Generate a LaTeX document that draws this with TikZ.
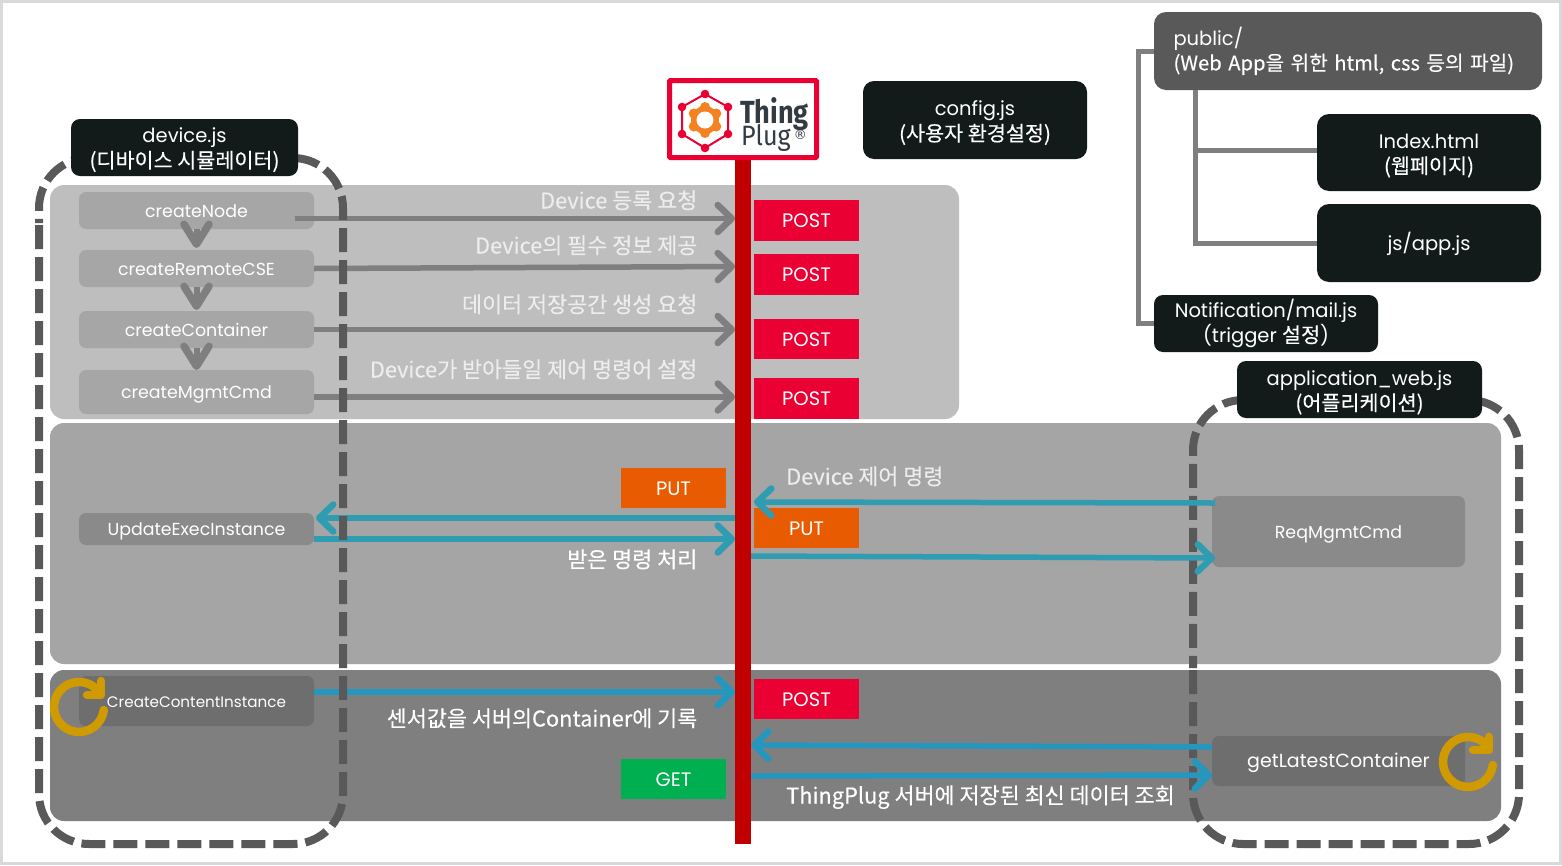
\documentclass[tikz,border=0pt]{standalone}
\usepackage{fontspec}
\usetikzlibrary{arrows.meta}
\setmainfont{Poppins}
\newfontfamily\kofont[FakeBold=0.25]{Noto Sans CJK KR}
\newfontfamily\logofont{Fira Sans}
\newfontfamily\regmark{DejaVu Sans}
\newcommand{\K}[1]{{\kofont\fontsize{20.7}{24}\selectfont #1}}
\newcommand{\Ktop}[1]{\rule{0pt}{#1pt}}
\definecolor{bandA}{HTML}{BEBEBE}
\definecolor{bandB}{HTML}{A5A5A5}
\definecolor{bandC}{HTML}{7F7F7F}
\definecolor{inkbox}{HTML}{121A1A}
\definecolor{dashgray}{HTML}{595959}
\definecolor{conn}{HTML}{7F7F7F}
\definecolor{tealconn}{HTML}{2F9CB2}
\definecolor{blueconn}{HTML}{2596BE}
\definecolor{postred}{HTML}{EA0033}
\definecolor{putorange}{HTML}{E95B00}
\definecolor{getgreen}{HTML}{00B050}
\definecolor{barred}{HTML}{C00000}
\definecolor{cycle}{HTML}{D09B00}
\definecolor{pale}{HTML}{EDEDED}
\definecolor{gearorange}{HTML}{F58220}
\definecolor{logoink}{HTML}{333B42}
\newcommand{\pxbox}[7]{%
  \pgfmathsetmacro{\cxx}{(#3+#5)/2}\pgfmathsetmacro{\cyy}{(#4+#6)/2}%
  \pgfmathsetmacro{\ww}{#5-#3}\pgfmathsetmacro{\hh}{#6-#4}%
  \node[#2,minimum width=\ww pt,minimum height=\hh pt] (#1) at (\cxx,\cyy) {#7};}
\tikzset{
  x=1pt,y=-1pt,
  basebox/.style={rectangle,inner sep=0pt,outer sep=0pt,align=center,text=white,font=\fontsize{19.5}{24}\selectfont},
  band/.style={basebox,rounded corners=14pt},
  dark/.style={basebox,rounded corners=9pt,fill=inkbox},
  funcbox/.style={basebox,rounded corners=7pt,font=\fontsize{17.4}{20}\selectfont,text height=13pt,text depth=0pt},
  verb/.style={basebox,font=\fontsize{19.5}{22}\selectfont,text height=14pt,text depth=0pt},
  dashbox/.style={draw=dashgray,line width=8pt,dash pattern=on 24pt off 8pt,rounded corners=50pt},
  grayarrow/.style={draw=conn,line width=5.5pt,-{Straight Barb[length=14pt,width=27pt,line width=6.5pt,round]}},
  flowarrow/.style={draw=conn,line width=6pt,-{Straight Barb[length=20pt,width=25pt,line width=7.5pt,round]}},
  tealarrow/.style={draw=tealconn,line width=5.5pt,-{Straight Barb[length=14pt,width=27pt,line width=6.5pt,round]}},
  bluearrow/.style={draw=blueconn,line width=5.5pt,-{Straight Barb[length=14pt,width=27pt,line width=6.5pt,round]}},
  tree/.style={draw=conn,line width=5pt,line join=miter},
  captext/.style={inner sep=0pt,text=pale,text height=17pt,text depth=4pt,font=\kofont\fontsize{21.8}{24}\selectfont},
  cyc/.style={draw=cycle,line width=8.5pt,line cap=round,line join=round},
}
\begin{document}
\begin{tikzpicture}
\useasboundingbox (0,0) rectangle (1562,865);
\fill[white] (0,0) rectangle (1562,865);
\draw[draw=black!15,line width=3pt] (1.5,1.5) rectangle (1560.5,863.5);
% bands
\pxbox{bandone}{band,fill=bandA}{50}{185}{959}{419}{}
\pxbox{bandtwo}{band,fill=bandB}{50}{423}{1501}{664}{}
\pxbox{bandthree}{band,fill=bandC}{50}{670}{1501}{821}{}
% dashed frame of the application, under the connectors
\draw[dashbox] (1193,670) -- (1193,844) -- (1519,844) -- (1519,400) -- (1193,400) -- (1193,668);
% function boxes
\pxbox{createNode}{funcbox,fill=black!35}{79}{192}{314}{229}{createNode}
\pxbox{createRemoteCSE}{funcbox,fill=black!35}{79}{250}{314}{287}{createRemoteCSE}
\pxbox{createContainer}{funcbox,fill=black!35}{79}{311}{314}{348}{createContainer}
\pxbox{createMgmtCmd}{funcbox,fill=black!35}{79}{370}{314}{414}{createMgmtCmd}
\pxbox{update}{funcbox,fill=black!46}{79}{513}{314}{545}{UpdateExecInstance}
\pxbox{reqcmd}{funcbox,fill=black!46}{1212}{496}{1465}{567}{ReqMgmtCmd}
\pxbox{createCI}{funcbox,fill=black!57,font=\fontsize{15.2}{20}\selectfont}{79}{676}{314}{726}{CreateContentInstance}
\pxbox{getlatest}{funcbox,fill=black!57,font=\fontsize{19}{22}\selectfont}{1212}{736}{1465}{786}{getLatestContainer}
% central bar
\pxbox{bar}{rectangle,inner sep=0pt,outer sep=0pt,fill=barred}{735}{158}{751}{844}{}
% verbs
\pxbox{postA}{verb,fill=postred}{754}{200}{859}{241}{POST}
\pxbox{postB}{verb,fill=postred}{754}{254}{859}{295}{POST}
\pxbox{postC}{verb,fill=postred}{754}{319}{859}{359}{POST}
\pxbox{postD}{verb,fill=postred}{754}{378}{859}{419}{POST}
\pxbox{postE}{verb,fill=postred}{754}{679}{859}{719}{POST}
\pxbox{putA}{verb,fill=putorange}{621}{468}{726}{508}{PUT}
\pxbox{putB}{verb,fill=putorange}{754}{508}{859}{548}{PUT}
\pxbox{getA}{verb,fill=getgreen}{621}{759}{726}{799}{GET}
% vertical flow
\draw[flowarrow] (createNode.south) -- ([yshift=2pt]createRemoteCSE.north);
\draw[flowarrow] (createRemoteCSE.south) -- ([yshift=1pt]createContainer.north);
\draw[flowarrow] (createContainer.south) -- (createMgmtCmd.north);
% connectors to the bar
\draw[grayarrow] ([xshift=-19pt,yshift=-8pt]createNode.east) -- ([yshift=-8pt]createNode.east -| bar.west);
\draw[grayarrow] (createRemoteCSE.east) -- ([yshift=2pt]createRemoteCSE.east -| bar.west);
\draw[grayarrow] (createContainer.east) -- (createContainer.east -| bar.west);
\draw[grayarrow] ([yshift=-5pt]createMgmtCmd.east) -- ([yshift=-5pt]createMgmtCmd.east -| bar.west);
\draw[tealarrow] ([yshift=11pt]update.east -| bar.west) -- ([xshift=2pt,yshift=11pt]update.east);
\draw[tealarrow] ([yshift=-10pt]update.east) -- ([yshift=-10pt]update.east -| bar.west);
\draw[tealarrow] ([xshift=3pt,yshift=28.5pt]reqcmd.west) -- ([xshift=3pt,yshift=29.5pt]reqcmd.west -| bar.east);
\draw[tealarrow] ([yshift=-24.5pt]reqcmd.west -| bar.east) -- ([xshift=3pt,yshift=-26.5pt]reqcmd.west);
\draw[bluearrow] ([yshift=9pt]createCI.east) -- ([yshift=9pt]createCI.east -| bar.west);
\draw[bluearrow] ([yshift=14pt]getlatest.west) -- ([yshift=16pt]getlatest.west -| bar.east);
\draw[bluearrow] ([yshift=-15pt]getlatest.west -| bar.east) -- ([yshift=-14pt]getlatest.west);
% dashed frame of the device, over the connectors
\draw[dashbox] (39,225) -- (39,844) -- (343,844) -- (343,158) -- (39,158) -- (39,223);
% title boxes
\pxbox{devicejs}{dark}{71}{119}{298}{176}{\Ktop{20}device.js\\[1pt]\K{(디바이스 시뮬레이터)}}
\pxbox{configjs}{dark,rounded corners=11pt}{863}{81}{1087}{159}{\Ktop{21}config.js\\[1pt]\K{(사용자 환경설정)}}
\pxbox{public}{dark,fill=dashgray,align=left,text width=349pt,rounded corners=12pt}{1154}{12}{1542}{90}{\Ktop{17}public/\\[1pt]{\kofont\fontsize{20.2}{24}\selectfont (Web App을 위한 html, css 등의 파일)}}
\pxbox{indexhtml}{dark,rounded corners=12pt}{1317}{114}{1541}{191}{\Ktop{21}Index.html\\[1pt]\K{(웹페이지)}}
\pxbox{appjs}{dark,rounded corners=12pt}{1317}{204}{1541}{282}{\Ktop{20}js/app.js}
\pxbox{notif}{dark}{1154}{295}{1378}{352}{\Ktop{17}Notification/mail.js\\[1pt](trigger \K{설정})}
\pxbox{appweb}{dark}{1237}{361}{1482}{418}{\Ktop{21}application\_web.js\\[1pt]\K{(어플리케이션)}}
% tree connectors
\coordinate (spineA) at (1138,51);
\coordinate (spineB) at (1195,150);
\draw[tree] (public.west) -- (spineA) |- (notif.west);
\draw[tree] (public.south -| spineB) |- (appjs.west);
\draw[tree] (spineB) -- (spineB -| indexhtml.west);
% captions
\node[captext,anchor=east] (capA) at (697.5,202) {Device 등록 요청};
\node[captext,anchor=east] (capB) at (697.5,247) {Device의 필수 정보 제공};
\node[captext,anchor=east] (capC) at (697.5,306) {데이터 저장공간 생성 요청};
\node[captext,anchor=east] (capD) at (697.5,371) {Device가 받아들일 제어 명령어 설정};
\node[captext,anchor=west] (capE) at (786,478) {Device 제어 명령};
\node[captext,anchor=east,text=white] (capF) at (697.5,561) {받은 명령 처리};
\node[captext,anchor=east,text=white] (capG) at (697.5,720) {센서값을 서버의Container에 기록};
\node[captext,anchor=west,text=white] (capH) at (786,797) {ThingPlug 서버에 저장된 최신 데이터 조회};
% cycle icons
\coordinate (cycA) at (79,707);
\coordinate (cycB) at (1468,762);
\draw[cyc] ([shift={(24.8,3)}]cycA) arc[start angle=-7,end angle=-310,radius=25pt];
\draw[cyc] ([shift={(22,-26)}]cycA) -- ([shift={(22,-12)}]cycA) -- ([shift={(8,-12)}]cycA);
\draw[cyc] ([shift={(24.8,3)}]cycB) arc[start angle=-7,end angle=-310,radius=25pt];
\draw[cyc] ([shift={(21,-25)}]cycB) -- ([shift={(21,-12)}]cycB) -- ([shift={(5,-12)}]cycB);
% logo
\pxbox{logobox}{rectangle,draw=postred,line width=5pt,fill=white,rounded corners=1pt}{669.5}{80.5}{816.5}{157.5}{}
\coordinate (hexa) at (705,94);
\coordinate (hexb) at (728,107);
\coordinate (hexc) at (728,134);
\coordinate (hexd) at (705,148);
\coordinate (hexe) at (682,134);
\coordinate (hexf) at (682,107);
\draw[postred,line width=2pt] (hexa) -- (hexb) -- (hexc) -- (hexd) -- (hexe) -- (hexf) -- cycle;
\foreach \hx in {hexa,hexb,hexc,hexd,hexe,hexf} \fill[postred] (\hx) circle[radius=4.3pt];
\coordinate (gearc) at (705,120);
\foreach \ang in {30,90,...,330} \fill[gearorange] (gearc) ++(\ang:13pt) circle[radius=5pt];
\fill[gearorange] (gearc) circle[radius=14pt];
\fill[white] (gearc) circle[radius=8.5pt];
\node[inner sep=0pt,anchor=base west,text=logoink,font=\logofont\bfseries\fontsize{32}{32}\selectfont] (logothing) at (740,123) {\scalebox{0.85}[1]{Thing}};
\node[inner sep=0pt,anchor=base west,text=logoink,font=\logofont\fontsize{28}{28}\selectfont] (logoplug) at (741,145) {\scalebox{0.9}[1]{Plug}\hspace{3pt}\raisebox{6pt}{\regmark\fontsize{13}{13}\selectfont ®}};
\end{tikzpicture}
\end{document}
